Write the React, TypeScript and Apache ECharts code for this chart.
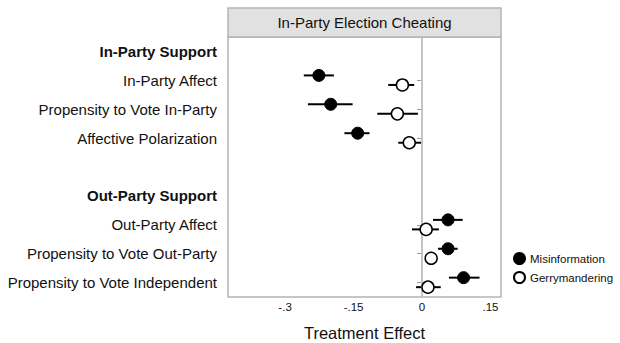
import React, { useEffect, useRef } from "react";
import * as echarts from "echarts";

// Rows from top to bottom; headers are bold, the empty string is a spacer row.
const categories = [
  "In-Party Support",
  "In-Party Affect",
  "Propensity to Vote In-Party",
  "Affective Polarization",
  "",
  "Out-Party Support",
  "Out-Party Affect",
  "Propensity to Vote Out-Party",
  "Propensity to Vote Independent",
];
const headerRows = ["In-Party Support", "Out-Party Support"];

// Misinformation treatment: estimate and confidence bounds per row
const misEst = [null, -0.226, -0.2, -0.141, null, null, 0.057, 0.057, 0.091];
const misLow = [null, -0.259, -0.25, -0.17, null, null, 0.024, 0.035, 0.059];
const misHigh = [null, -0.193, -0.152, -0.115, null, null, 0.089, 0.078, 0.126];

// Gerrymandering treatment
const gerEst = [null, -0.043, -0.054, -0.028, null, null, 0.009, 0.02, 0.013];
const gerLow = [null, -0.074, -0.098, -0.052, null, null, -0.022, 0.007, -0.013];
const gerHigh = [null, -0.017, -0.009, -0.002, null, null, 0.037, 0.033, 0.041];

const tickValues = [-0.3, -0.15, 0, 0.15];
const tickLabels = ["-.3", "-.15", "0", ".15"];

const panelTitle = "In-Party Election Cheating";
const xTitle = "Treatment Effect";

const FONT = "'Liberation Sans', Arial, sans-serif";

// vertical offsets (in row units) so the two treatments sit just apart
const MIS_SHIFT = -0.17;
const GER_SHIFT = 0.16;

function points(est: (number | null)[], shift: number) {
  const out: number[][] = [];
  est.forEach((v, i) => {
    if (v !== null) out.push([v, i + 0.5 + shift]);
  });
  return out;
}

function bars(low: (number | null)[], high: (number | null)[], shift: number) {
  const out: number[][] = [];
  low.forEach((v, i) => {
    const h = high[i];
    if (v !== null && h !== null) out.push([v, h, i + 0.5 + shift]);
  });
  return out;
}

const renderBar = (_params: any, api: any) => {
  const a = api.coord([api.value(0), api.value(2)]);
  const b = api.coord([api.value(1), api.value(2)]);
  return {
    type: "line",
    shape: { x1: a[0], y1: a[1], x2: b[0], y2: b[1] },
    style: { stroke: "#000", lineWidth: 2 },
  };
};

export default function App() {
  const ref = useRef<HTMLDivElement>(null);

  useEffect(() => {
    if (!ref.current) return;
    const chart = echarts.init(ref.current, null, { renderer: "svg" });
    const gridLeft = 228;
    const gridTop = 37;
    const gridRight = 119;
    const gridBottom = 46;

    chart.setOption({
      animation: false,
      backgroundColor: "#fff",
      textStyle: { fontFamily: FONT },
      grid: {
        left: gridLeft,
        top: gridTop,
        right: gridRight,
        bottom: gridBottom,
        outerBoundsMode: "none",
        containLabel: false,
        show: true,
        borderColor: "#b4b4b4",
        borderWidth: 1.5,
        backgroundColor: "#fff",
      },
      graphic: [
        {
          type: "rect",
          shape: { x: gridLeft, y: 8, width: 620 - gridLeft - gridRight, height: gridTop - 8 },
          style: { fill: "#e1e1e1", stroke: "#b4b4b4", lineWidth: 1.5 },
          z: 10,
        },
        {
          type: "text",
          x: gridLeft + (620 - gridLeft - gridRight) / 2,
          y: 8 + (gridTop - 8) / 2,
          style: {
            text: panelTitle,
            fontFamily: FONT,
            fontSize: 15,
            fill: "#111",
            align: "center",
            verticalAlign: "middle",
          },
          z: 11,
        },
      ],
      legend: {
        orient: "vertical",
        left: 508,
        top: 247,
        itemWidth: 11,
        itemHeight: 11,
        itemGap: 6,
        data: ["Misinformation", "Gerrymandering"],
        textStyle: { fontFamily: FONT, fontSize: 11.5, color: "#111" },
      },
      xAxis: {
        type: "value",
        min: -0.425,
        max: 0.173,
        axisLine: { show: false },
        axisTick: { show: false },
        splitLine: { show: false },
        axisLabel: {
          customValues: tickValues,
          formatter: (v: number) => {
            const i = tickValues.findIndex((t) => Math.abs(t - v) < 1e-9);
            return i >= 0 ? tickLabels[i] : "";
          },
          fontSize: 11.5,
          color: "#111",
          margin: 4,
          fontFamily: FONT,
        },
        name: xTitle,
        nameLocation: "middle",
        nameGap: 27,
        nameTextStyle: { fontSize: 16.5, color: "#111", fontFamily: FONT },
      },
      yAxis: [
        {
          type: "category",
          data: categories,
          inverse: true,
          axisLine: { show: false },
          axisTick: {
            show: true,
            alignWithLabel: true,
            length: 5,
            interval: (_i: number, v: string) => v !== "" && !headerRows.includes(v),
            lineStyle: { color: "#999" },
          },
          axisLabel: {
            interval: 0,
            margin: 11,
            fontSize: 15,
            color: "#111",
            fontFamily: FONT,
            formatter: (v: string) => (headerRows.includes(v) ? `{h|${v}}` : v),
            rich: {
              h: { fontWeight: "bold", fontSize: 15, color: "#111", fontFamily: FONT },
            },
          },
          splitLine: { show: false },
        },
        {
          type: "value",
          min: 0,
          max: categories.length,
          inverse: true,
          show: false,
        },
      ],
      series: [
        {
          type: "custom",
          name: "misBars",
          yAxisIndex: 1,
          renderItem: renderBar,
          encode: { x: [0, 1], y: 2 },
          data: bars(misLow, misHigh, MIS_SHIFT),
          z: 3,
          silent: true,
          markLine: {
            silent: true,
            symbol: "none",
            label: { show: false },
            lineStyle: { color: "#c4c4c4", width: 2, type: "solid" },
            data: [{ xAxis: 0 }],
          },
        },
        {
          type: "custom",
          name: "gerBars",
          yAxisIndex: 1,
          renderItem: renderBar,
          encode: { x: [0, 1], y: 2 },
          data: bars(gerLow, gerHigh, GER_SHIFT),
          z: 3,
          silent: true,
        },
        {
          type: "scatter",
          name: "Misinformation",
          yAxisIndex: 1,
          symbol: "circle",
          symbolSize: 12,
          itemStyle: { color: "#000", borderColor: "#000", borderWidth: 1, opacity: 1 },
          data: points(misEst, MIS_SHIFT),
          z: 5,
        },
        {
          type: "scatter",
          name: "Gerrymandering",
          yAxisIndex: 1,
          symbol: "circle",
          symbolSize: 12,
          itemStyle: { color: "#fff", borderColor: "#000", borderWidth: 1.5, opacity: 1 },
          data: points(gerEst, GER_SHIFT),
          z: 5,
        },
      ],
    });
    return () => chart.dispose();
  }, []);

  return (
    <div
      ref={ref}
      style={{ position: "fixed", left: 0, top: 0, width: 620, height: 343 }}
    />
  );
}
